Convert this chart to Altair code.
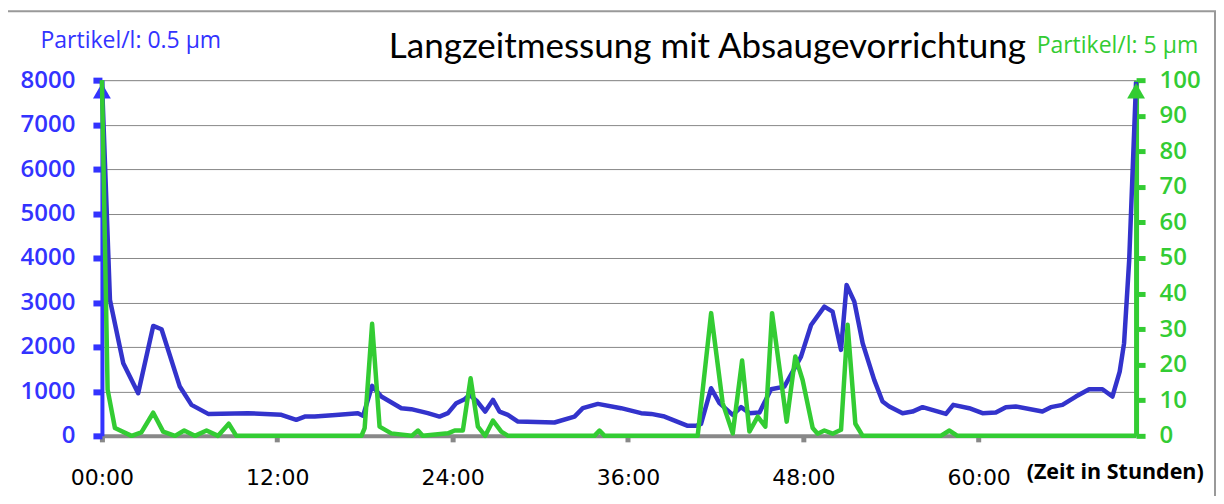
import altair as alt
import pandas as pd

# ---- data ----
blue_hours = [0.0, 0.55, 1.46, 2.48, 3.51, 4.08, 5.33, 6.13, 7.27, 10.0,
              12.28, 13.3, 13.88, 14.56, 16.0, 17.52, 17.87, 18.49, 19.12, 20.49,
              21.17, 22.3, 23.1, 23.68, 24.25, 24.82, 25.16, 25.69, 26.23, 26.76,
              27.21, 27.78, 28.47, 30.97, 32.34, 32.91, 33.94, 35.53, 36.9, 37.59,
              38.5, 40.09, 40.66, 41.0, 41.69, 42.26, 43.17, 43.74, 44.31, 45.0,
              45.79, 46.7, 47.84, 48.53, 49.44, 50.0, 50.58, 50.96, 51.49, 52.06,
              52.85, 53.42, 53.88, 54.79, 55.47, 56.16, 57.76, 58.26, 59.35, 60.26,
              61.17, 61.86, 62.54, 64.36, 64.94, 65.73, 66.65, 67.56, 68.47, 69.15,
              69.65, 69.95, 70.3, 70.77]
blue_values = [8000, 3056, 1633, 960, 2472, 2397, 1108, 697, 494, 510,
               472, 360, 434, 434, 470, 510, 449, 1124, 884, 622,
               600, 510, 434, 510, 735, 825, 921, 771, 546, 809,
               546, 472, 322, 300, 434, 622, 719, 622, 510, 494,
               434, 225, 225, 270, 1071, 735, 472, 645, 510, 524,
               1049, 1108, 1782, 2494, 2906, 2794, 1933, 3393, 3018, 2083,
               1258, 771, 659, 510, 546, 645, 494, 697, 622, 510,
               524, 645, 659, 546, 645, 697, 884, 1049, 1049, 884,
               1446, 2083, 3955, 7960]

green_hours = [0.0, 0.39, 0.89, 2.03, 2.7, 3.51, 4.19, 5.0, 5.63, 6.36,
               7.16, 7.95, 8.68, 9.2, 17.76, 17.98, 18.49, 19.0, 19.8, 21.2,
               21.63, 21.95, 23.68, 24.14, 24.7, 25.23, 25.73, 26.23, 26.76, 27.33,
               27.8, 33.7, 34.05, 34.4, 40.77, 41.69, 42.48, 43.17, 43.81, 44.31,
               44.88, 45.4, 45.86, 46.86, 47.45, 47.95, 48.64, 48.98, 49.44, 50.0,
               50.58, 51.03, 51.56, 52.06, 57.4, 58.0, 58.55, 70.77]
green_values = [100, 13, 2.2, 0, 1, 6.5, 1.2, 0, 1.5, 0,
                1.5, 0, 3.4, 0, 0, 2.2, 31.5, 2.6, 0.7, 0,
                1.5, 0, 0.7, 1.5, 1.5, 16.2, 2.6, 0, 4.3, 1.2,
                0, 0, 1.5, 0, 0, 34.5, 9.2, 0.7, 21.2, 1.2,
                5.4, 2.6, 34.5, 4.0, 22.3, 15.7, 2.2, 0.6, 1.5, 0.6,
                1.7, 31.2, 3.4, 0, 0, 1.5, 0, 0]

x_ticks = [0, 12, 24, 36, 48, 60]
left_ticks = [0, 1000, 2000, 3000, 4000, 5000, 6000, 7000, 8000]
right_ticks = [0, 10, 20, 30, 40, 50, 60, 70, 80, 90, 100]
x_max = 70.77

chart_title = "Langzeitmessung mit Absaugevorrichtung"

# arrow heads at the top of both value axes (hour, value)
blue_arrow = ([0.0], [7760])
green_arrow = ([70.77], [97.0])

BLUE_LINE = "#3333CC"
BLUE_AXIS = "#3333FF"
GREEN = "#33CC33"
GRAY = "#888888"

df_blue = pd.DataFrame({"h": blue_hours, "v": blue_values})
df_green = pd.DataFrame({"h": green_hours, "v": green_values})
df_barrow = pd.DataFrame({"h": blue_arrow[0], "v": blue_arrow[1]})
df_garrow = pd.DataFrame({"h": green_arrow[0], "v": green_arrow[1]})

x_enc = alt.X(
    "h:Q",
    scale=alt.Scale(domain=[0, x_max], nice=False, zero=False),
    axis=alt.Axis(
        values=x_ticks,
        labelExpr="(datum.value < 10 ? '0' : '') + datum.value + ':00'",
        title="(Zeit in Stunden)", titleX=925, titleY=43, titleAlign="left",
        titleBaseline="alphabetic", titleFont="Open Sans", titleFontSize=21.5,
        titleFontWeight="bold", titleColor="black",
        labelFont="DejaVu Sans", labelFontSize=22, labelColor="black",
        labelBaseline="top", labelPadding=26, labelFlush=False,
        tickSize=6, tickWidth=5, tickColor=GRAY,
        domainColor=GRAY, domainWidth=4, grid=False,
    ),
)

y_left = alt.Y(
    "v:Q",
    scale=alt.Scale(domain=[0, 8000], nice=False),
    axis=alt.Axis(
        orient="left", values=left_ticks, format="d",
        title="Partikel/l: 0.5 µm", titleAngle=0, titleX=-62, titleY=-33,
        titleAlign="left", titleBaseline="alphabetic", titleColor=BLUE_AXIS,
        titleFont="Open Sans", titleFontSize=23, titleFontWeight=500,
        labelColor=BLUE_AXIS, labelFont="Open Sans", labelFontSize=24,
        labelFontWeight=600, labelPadding=18,
        tickSize=9, tickWidth=6, tickColor=BLUE_AXIS,
        domainColor=BLUE_AXIS, domainWidth=4,
        grid=True, gridColor=GRAY, gridWidth=1,
    ),
)

y_right = alt.Y(
    "v:Q",
    scale=alt.Scale(domain=[0, 100], nice=False),
    axis=alt.Axis(
        orient="right", values=right_ticks, format="d",
        title="Partikel/l: 5 µm", titleAngle=0, titleX=-100, titleY=-28,
        titleAlign="left", titleBaseline="alphabetic", titleColor=GREEN,
        titleFont="Open Sans", titleFontSize=23, titleFontWeight=500,
        labelColor=GREEN, labelFont="Open Sans", labelFontSize=24,
        labelFontWeight=600, labelPadding=14, labelAlign="left",
        tickSize=9, tickWidth=5, tickColor=GREEN,
        domainColor=GREEN, domainWidth=5, grid=False,
    ),
)

blue_line = alt.Chart(df_blue).mark_line(
    color=BLUE_LINE, strokeWidth=4.5, strokeJoin="round"
).encode(x=x_enc, y=y_left)
blue_tip = alt.Chart(df_barrow).mark_point(
    shape="triangle-up", filled=True, size=320, color=BLUE_AXIS, opacity=1
).encode(x=x_enc, y=y_left)

green_line = alt.Chart(df_green).mark_line(
    color=GREEN, strokeWidth=4.5, strokeJoin="round"
).encode(x=x_enc, y=y_right)
green_tip = alt.Chart(df_garrow).mark_point(
    shape="triangle-up", filled=True, size=320, color=GREEN, opacity=1
).encode(x=x_enc, y=y_right)

deco = pd.DataFrame({"t": [chart_title]})
border = alt.Chart(deco).mark_rect(
    fill=None, stroke="#999999", strokeWidth=2
).encode(
    x=alt.value(-96), x2=alt.value(1114), y=alt.value(-69), y2=alt.value(440)
)
title_mark = alt.Chart(deco).mark_text(
    font="Lato", fontSize=35, color="black", align="center",
    baseline="alphabetic"
).encode(x=alt.value(606), y=alt.value(-22), text="t:N")

chart = alt.layer(
    border,
    title_mark,
    alt.layer(blue_line, blue_tip),
    alt.layer(green_line, green_tip),
).resolve_scale(y="independent").properties(
    width=1035,
    height=356,
    autosize=alt.AutoSizeParams(type="none"),
    padding={"left": 94, "top": 72, "right": 80, "bottom": 60},
).configure_view(stroke=None).configure(background="white")

chart.save("out.html", embed_options={"renderer": "svg", "actions": False})
